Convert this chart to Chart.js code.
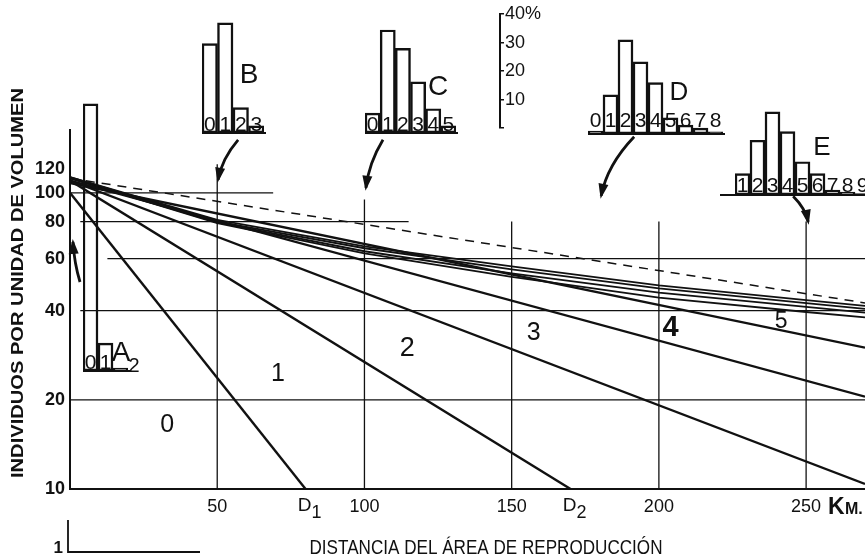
<!DOCTYPE html>
<html>
<head>
<meta charset="utf-8">
<script src="https://cdn.jsdelivr.net/npm/chart.js@4.4.1/dist/chart.umd.min.js"></script>
<style>
  body { margin: 0; background: #fff; }
  #wrap { position: relative; width: 865px; height: 558px; overflow: hidden; background: #fff; }
  #wrap canvas { position: absolute; }
</style>
</head>
<body>
<div id="wrap">
  <canvas id="main" width="865" height="558" style="left:0;top:0"></canvas>
</div>
<script>
const INK = '#111111';
const FONT = '"Liberation Sans", Arial, sans-serif';
const PX_PER_PCT = 2.95;

// axes
const yTicks = [10, 20, 40, 60, 80, 100, 120];
const xTicks = [50, 100, 150, 200, 250];
const dMarks = [80, 170];          // D1, D2 (km)
const dNames = ['1', '2'];

// straight lines 1..5 (start at km 0)
const straightStart = [100, 110, 110, 110, 108];
const straightEndKm = [80, 170, 270, 270, 270];
const straightEndVal = [10, 10, 10.4, 20.5, 30];

// upper bundle of curves
const curveKm = [0, 50, 100, 150, 200, 250, 270];
const curveA = [113, 81, 66, 56.5, 48.7, 43.4, 41.5];
const curveB = [113, 80, 65, 55.2, 47.6, 42.4, 40.6];
const curveC = [112, 79.5, 63.5, 53.5, 46, 41.2, 39.4];
const curveD = [112, 79, 62.5, 52, 44.3, 39.6, 38];

// dashed line
const dashedKm = [0, 270];
const dashedVal = [112, 42.5];

// zone numbers
const zoneNames = ['0', '1', '2', '3', '4', '5'];
const zoneKm = [33, 70.6, 114.5, 157.5, 204, 241.5];
const zoneVal = [16.4, 24.5, 29.9, 33.7, 35, 36.6];

// partial grid lines
const hGridVal = [20, 40, 60, 80, 100];
const hGridFrom = [0, 3.5, 12.7, 3.5, 0];
const hGridTo = [270, 270, 270, 115, 69];
const vGridKm = [50, 100, 150, 200, 250];
const vGridTop = [125, 95, 80, 80, 80];

// arrows from the histograms to the lines (km, value)
const arrowFromKm = [57.1, 106.3, 191.6, 245.6, 3.4];
const arrowFromVal = [151, 151, 154.6, 97.3, 50];
const arrowToKm = [50.3, 100.5, 180.4, 250.7, 1.0];
const arrowToVal = [110.7, 104, 97.7, 79.8, 68.3];

// histograms, percent per class
const histA2Labels = ['0', '1', ''];
const histA2 = [90.6, 9.5, 1];
const histBLabels = ['0', '1', '2', '3'];
const histB = [30.4, 37.4, 8.6, 2.4];
const histCLabels = ['0', '1', '2', '3', '4', '5'];
const histC = [6.7, 34.8, 28.6, 17.3, 8.2, 2.4];
const histDLabels = ['0', '1', '2', '3', '4', '5', '6', '7', '8'];
const histD = [1, 13.3, 31.9, 24.5, 17.4, 5.5, 3, 2, 0.7];
const histELabels = ['1', '2', '3', '4', '5', '6', '7', '8', '9'];
const histE = [7.3, 18.6, 28.2, 21.5, 11.3, 7.3, 1.7, 1, 0.5];
const pctTicks = [0, 10, 20, 30, 40];

function pts(km, vals) {
  return km.map((k, i) => ({ x: k, y: vals[i] }));
}

const datasets = [];
straightStart.forEach((v, i) => {
  datasets.push({
    data: [{ x: 0, y: v }, { x: straightEndKm[i], y: straightEndVal[i] }],
    borderColor: INK, borderWidth: 2.4
  });
});
[curveA, curveB, curveC, curveD].forEach((c) => {
  datasets.push({ data: pts(curveKm, c), borderColor: INK, borderWidth: 1.8 });
});
datasets.push({ data: pts(dashedKm, dashedVal), borderColor: INK, borderWidth: 1.5, borderDash: [9, 7] });

function arrow(ctx, x0, y0, x1, y1) {
  const cx = x1 + 0.18 * (x0 - x1);
  const cy = y0 + 0.48 * (y1 - y0);
  ctx.beginPath();
  ctx.moveTo(x0, y0);
  ctx.quadraticCurveTo(cx, cy, x1, y1);
  ctx.stroke();
  const a = Math.atan2(y1 - cy, x1 - cx);
  ctx.beginPath();
  ctx.moveTo(x1 + 3 * Math.cos(a), y1 + 3 * Math.sin(a));
  ctx.lineTo(x1 - 12 * Math.cos(a) + 5 * Math.sin(a), y1 - 12 * Math.sin(a) - 5 * Math.cos(a));
  ctx.lineTo(x1 - 12 * Math.cos(a) - 5 * Math.sin(a), y1 - 12 * Math.sin(a) + 5 * Math.cos(a));
  ctx.closePath();
  ctx.fill();
}

function fitText(ctx, text, x, y, width) {
  const w = ctx.measureText(text).width;
  ctx.save();
  ctx.translate(x, y);
  ctx.scale(width / w, 1);
  ctx.fillText(text, 0, 0);
  ctx.restore();
}

const decor = {
  id: 'decor',
  beforeDatasetsDraw(chart) {
    const { ctx, scales: { x, y } } = chart;
    ctx.save();
    ctx.strokeStyle = INK;
    ctx.lineWidth = 1.3;
    hGridVal.forEach((v, i) => {
      const py = y.getPixelForValue(v);
      ctx.beginPath();
      ctx.moveTo(x.getPixelForValue(hGridFrom[i]), py);
      ctx.lineTo(x.getPixelForValue(hGridTo[i]), py);
      ctx.stroke();
    });
    vGridKm.forEach((k, i) => {
      const px = x.getPixelForValue(k);
      ctx.beginPath();
      ctx.moveTo(px, y.getPixelForValue(10));
      ctx.lineTo(px, y.getPixelForValue(vGridTop[i]));
      ctx.stroke();
    });
    ctx.restore();
  },
  afterDraw(chart) {
    const { ctx, chartArea, scales: { x, y } } = chart;
    ctx.save();
    ctx.fillStyle = INK;
    ctx.strokeStyle = INK;

    // zone numbers
    const zoneSize = [25, 25, 27, 25, 29, 23];
    ctx.textAlign = 'center';
    ctx.textBaseline = 'middle';
    zoneNames.forEach((n, i) => {
      ctx.font = (i === 4 ? 'bold ' : '') + zoneSize[i] + 'px ' + FONT;
      ctx.fillText(n, x.getPixelForValue(zoneKm[i]), y.getPixelForValue(zoneVal[i]));
    });

    // D1, D2
    dMarks.forEach((k, i) => {
      const px = x.getPixelForValue(k);
      ctx.font = '19px ' + FONT;
      ctx.textBaseline = 'alphabetic';
      ctx.textAlign = 'center';
      ctx.fillText('D', px - 1, chartArea.bottom + 22);
      ctx.font = '18px ' + FONT;
      ctx.textAlign = 'left';
      ctx.fillText(dNames[i], px + 6, chartArea.bottom + 29);
    });

    // KM.
    ctx.textAlign = 'left';
    ctx.font = 'bold 23px ' + FONT;
    ctx.fillText('K', 828, chartArea.bottom + 25);
    ctx.font = 'bold 16px ' + FONT;
    ctx.fillText('M.', 845, chartArea.bottom + 25);

    // axis titles
    ctx.textAlign = 'center';
    ctx.textBaseline = 'middle';
    ctx.font = 'bold 17px ' + FONT;
    ctx.save();
    ctx.translate(18, 283);
    ctx.rotate(-Math.PI / 2);
    fitText(ctx, 'INDIVIDUOS POR UNIDAD DE VOLUMEN', 0, 0, 390);
    ctx.restore();
    ctx.font = '21px ' + FONT;
    fitText(ctx, 'DISTANCIA DEL ÁREA DE REPRODUCCIÓN', 486, 548, 353);

    // broken scale mark
    ctx.font = 'bold 17px ' + FONT;
    ctx.textAlign = 'right';
    ctx.fillText('1', 63, 548);
    ctx.lineWidth = 1.8;
    ctx.beginPath();
    ctx.moveTo(68, 520);
    ctx.lineTo(68, 552);
    ctx.lineTo(200, 552);
    ctx.stroke();

    // histogram letters
    ctx.textAlign = 'center';
    ctx.textBaseline = 'middle';
    ctx.font = '28px ' + FONT;
    ctx.fillText('B', 249, 75);
    ctx.fillText('C', 438, 87);
    ctx.font = '26px ' + FONT;
    ctx.fillText('D', 679, 93);
    ctx.fillText('E', 822, 148);
    ctx.font = '28px ' + FONT;
    ctx.fillText('A', 121, 353);
    ctx.font = '20px ' + FONT;
    ctx.fillText('2', 134, 366);

    // arrows
    ctx.lineWidth = 2.8;
    arrowFromKm.forEach((k, i) => {
      arrow(ctx,
        x.getPixelForValue(k), y.getPixelForValue(arrowFromVal[i]),
        x.getPixelForValue(arrowToKm[i]), y.getPixelForValue(arrowToVal[i]));
    });
    ctx.restore();
  }
};

new Chart(document.getElementById('main'), {
  type: 'line',
  data: { datasets },
  options: {
    responsive: false,
    animation: false,
    devicePixelRatio: 1,
    layout: { padding: { top: 130, right: 0, left: 0, bottom: 0 } },
    elements: { point: { radius: 0 }, line: { tension: 0 } },
    plugins: { legend: { display: false }, tooltip: { enabled: false } },
    scales: {
      x: {
        type: 'linear', min: 0, max: 270,
        afterBuildTicks: (s) => { s.ticks = xTicks.map((v) => ({ value: v })); },
        afterFit: (s) => { s.height = 69; },
        grid: { drawOnChartArea: false, drawTicks: false },
        border: { color: INK, width: 2 },
        ticks: { color: INK, font: { family: FONT, size: 18 }, padding: 7, maxRotation: 0 }
      },
      y: {
        type: 'logarithmic', min: 10, max: 163,
        afterBuildTicks: (s) => { s.ticks = yTicks.map((v) => ({ value: v })); },
        afterFit: (s) => { s.width = 70; },
        grid: { drawOnChartArea: false, drawTicks: false },
        border: { color: INK, width: 2 },
        ticks: { color: INK, font: { family: FONT, size: 18, weight: 'bold' }, padding: 5, callback: (v) => String(v) }
      }
    }
  },
  plugins: [decor]
});

// histogram insets
const histLabels = {
  id: 'histLabels',
  afterDatasetsDraw(chart) {
    const { ctx, chartArea } = chart;
    const lift = chart.options.plugins.histLabels.lift;
    const names = chart.data.labels;
    ctx.save();
    ctx.strokeStyle = INK;
    ctx.lineWidth = 2.2;
    ctx.beginPath();
    ctx.moveTo(0, chartArea.bottom);
    ctx.lineTo(chart.width, chartArea.bottom);
    ctx.stroke();
    ctx.fillStyle = INK;
    ctx.font = '21px ' + FONT;
    ctx.textAlign = 'center';
    ctx.textBaseline = 'alphabetic';
    chart.getDatasetMeta(0).data.forEach((bar, i) => {
      ctx.fillText(names[i], bar.x, chartArea.bottom - lift);
    });
    ctx.restore();
  }
};

function makeHist(labels, values, left, baseline, barW, padLeft, lift) {
  const maxPct = Math.max(...values) + 1;
  const h = Math.round(maxPct * PX_PER_PCT) + 4;
  const cv = document.createElement('canvas');
  cv.width = Math.round(labels.length * barW + padLeft + 2);
  cv.height = h;
  cv.style.left = (left - padLeft) + 'px';
  cv.style.top = (baseline - h + 2) + 'px';
  document.getElementById('wrap').appendChild(cv);
  new Chart(cv, {
    type: 'bar',
    data: {
      labels,
      datasets: [{
        data: values,
        backgroundColor: 'rgba(255,255,255,0)',
        borderColor: INK,
        borderWidth: 1.8,
        borderSkipped: false,
        barPercentage: 1,
        categoryPercentage: 1
      }]
    },
    options: {
      responsive: false,
      animation: false,
      devicePixelRatio: 1,
      layout: { padding: { top: 2, bottom: 2, left: padLeft, right: 2 } },
      plugins: { legend: { display: false }, tooltip: { enabled: false }, histLabels: { lift } },
      scales: {
        x: { display: false },
        y: { display: false, min: 0, max: maxPct }
      }
    },
    plugins: [histLabels]
  });
}

makeHist(histA2Labels, histA2, 83, 371, 15, 0, 2);
makeHist(histBLabels, histB, 202, 133, 15.5, 0, 2);
makeHist(histCLabels, histC, 365, 133, 15.2, 0, 2);
makeHist(histDLabels, histD, 588, 134, 15, 0, 7);
makeHist(histELabels, histE, 735, 195, 15, 15, 3);

// percent scale
const pcv = document.createElement('canvas');
pcv.width = 70;
pcv.height = 140;
pcv.style.left = '490px';
pcv.style.top = '0px';
document.getElementById('wrap').appendChild(pcv);
new Chart(pcv, {
  type: 'bar',
  data: { labels: [''], datasets: [{ data: [null] }] },
  options: {
    responsive: false,
    animation: false,
    devicePixelRatio: 1,
    layout: { padding: { top: 14, bottom: 8, left: 0, right: 0 } },
    plugins: { legend: { display: false }, tooltip: { enabled: false } },
    scales: {
      x: { display: false },
      y: {
        position: 'right', min: 0, max: 40,
        afterBuildTicks: (s) => { s.ticks = pctTicks.map((v) => ({ value: v })); },
        afterFit: (s) => { s.width = 60; },
        grid: { drawOnChartArea: false, tickLength: 4, color: INK, lineWidth: 1.5 },
        border: { color: INK, width: 2 },
        ticks: {
          color: INK, padding: 1, font: { family: FONT, size: 18 },
          callback: (v) => (v === 40 ? '40%' : (v === 0 ? '' : String(v)))
        }
      }
    }
  }
});
</script>
</body>
</html>
